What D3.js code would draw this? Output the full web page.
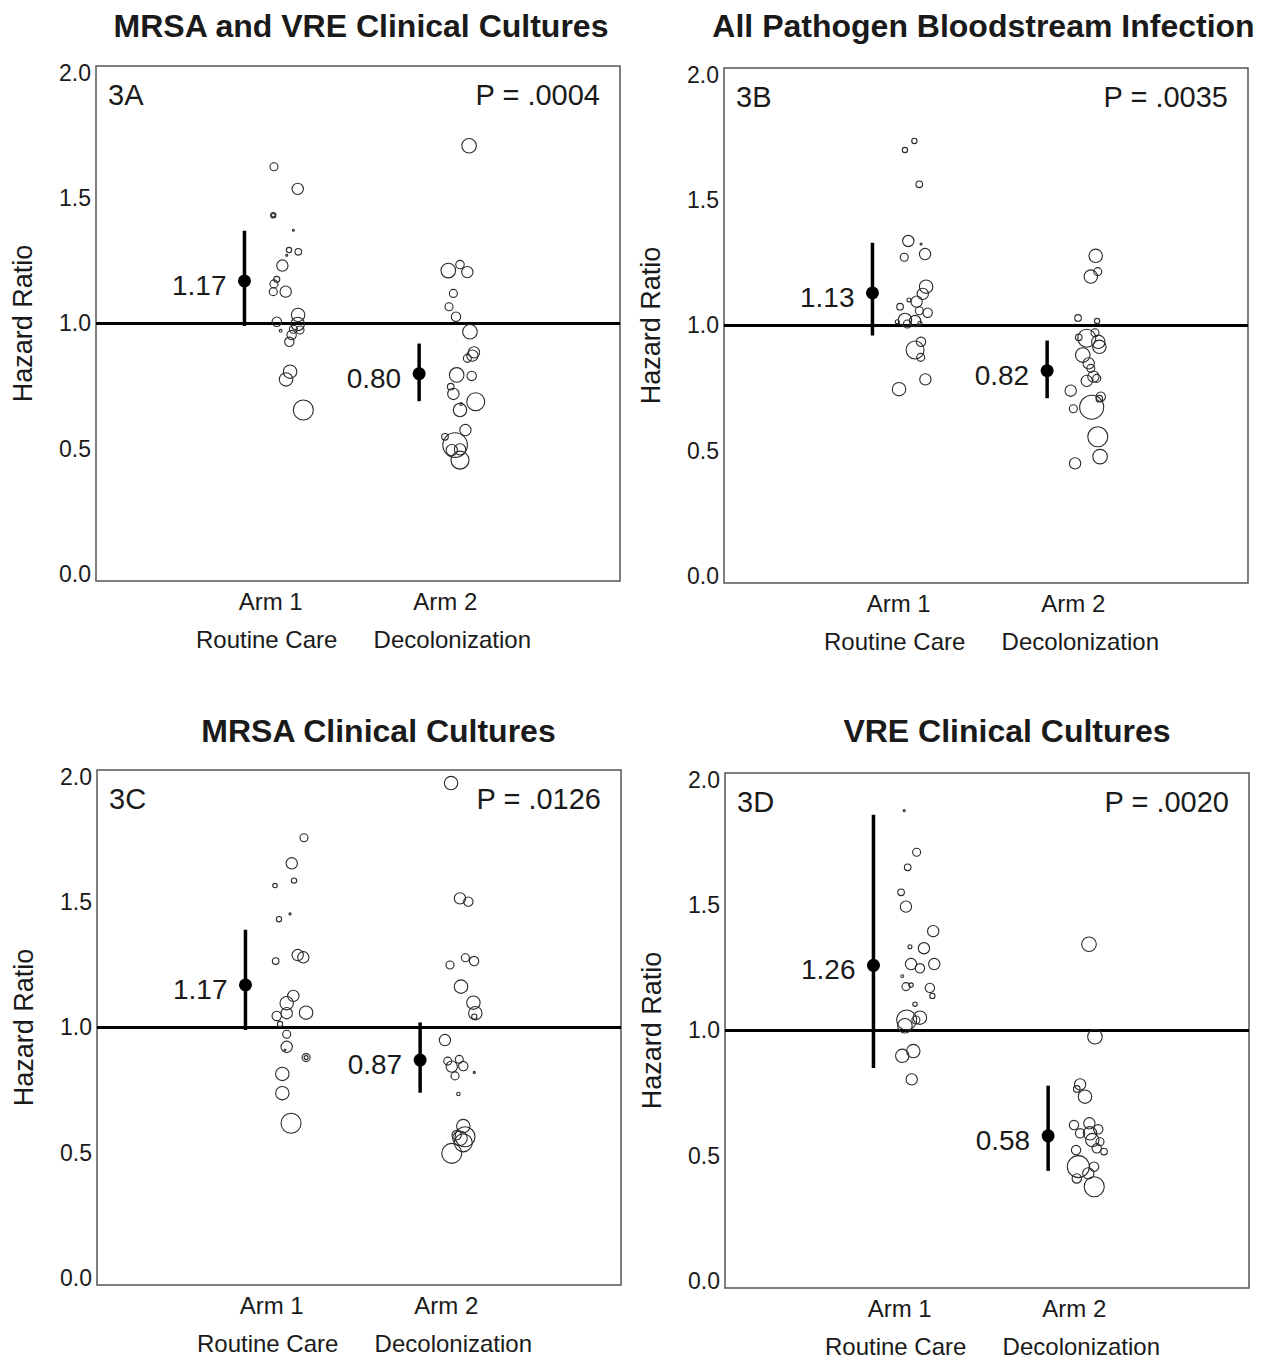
<!DOCTYPE html>
<html>
<head>
<meta charset="utf-8">
<script src="https://cdn.jsdelivr.net/npm/d3@7"></script>
<style>
  body { margin: 0; background: #fff; }
  svg { display: block; font-family: "Liberation Sans", Arial, sans-serif; }
</style>
</head>
<body>
<div id="chart"></div>
<script>
// ---- data ----
const panelIds = ["3A", "3B", "3C", "3D"];
const panelTitles = [
    "MRSA and VRE Clinical Cultures",
    "All Pathogen Bloodstream Infection",
    "MRSA Clinical Cultures",
    "VRE Clinical Cultures"
];
const pValues = ["P = .0004", "P = .0035", "P = .0126", "P = .0020"];
const armLabels = ["Arm 1", "Arm 2"];
const armNames = ["Routine Care", "Decolonization"];
const yTicks = [0, 0.5, 1.0, 1.5, 2.0];

// hazard ratio estimate and 95% CI per arm
const estimates = [[1.17, 0.80], [1.13, 0.82], [1.17, 0.87], [1.26, 0.58]];
const ciLower = [[0.99, 0.69], [0.96, 0.71], [0.99, 0.74], [0.85, 0.44]];
const ciUpper = [[1.37, 0.92], [1.33, 0.94], [1.39, 1.02], [1.86, 0.78]];

// hospital bubbles: [arm, jitter, hazard ratio, weight]
const bubblesA = [
    [1,0.019,1.625,16],[1,0.155,1.537,32],[1,0.015,1.432,7],[1,0.015,1.432,3],[1,0.130,1.372,1],
    [1,0.105,1.293,7],[1,0.158,1.286,11],[1,0.092,1.272,1],[1,0.067,1.231,32],[1,0.035,1.176,9],
    [1,0.019,1.158,16],[1,0.015,1.127,16],[1,0.086,1.127,32],[1,0.035,1.007,22],[1,0.057,0.971,2],
    [1,0.157,1.034,45],[1,0.155,0.998,45],[1,0.168,0.974,16],[1,0.130,0.977,16],[1,0.120,0.954,22],
    [1,0.107,0.927,22],[1,0.111,0.808,45],[1,0.088,0.777,45],[1,0.187,0.655,100],
    [2,0.136,1.709,53],[2,0.017,1.211,53],[2,0.084,1.235,18],[2,0.126,1.205,32],[2,0.046,1.120,16],
    [2,0.021,1.067,16],[2,0.061,1.027,22],[2,0.141,0.967,53],[2,0.164,0.885,32],[2,0.155,0.872,32],
    [2,0.126,0.861,16],[2,0.065,0.795,53],[2,0.151,0.791,22],[2,0.031,0.748,11],[2,0.046,0.719,32],
    [2,0.174,0.688,81],[2,0.084,0.655,45],[2,0.090,0.679,2],[2,0.115,0.575,32],[2,-0.002,0.548,11],
    [2,0.056,0.515,151],[2,0.037,0.495,32],[2,0.084,0.498,32],[2,0.084,0.455,81]
];
const bubblesB = [
    [1,0.090,1.736,7],[1,0.036,1.700,7],[1,0.118,1.563,11],[1,0.055,1.337,32],[1,0.128,1.325,1],
    [1,0.032,1.272,16],[1,0.151,1.285,32],[1,0.157,1.155,45],[1,0.138,1.126,32],[1,0.103,1.095,32],
    [1,0.059,1.102,4],[1,0.008,1.075,11],[1,0.118,1.059,16],[1,0.166,1.051,22],[1,0.036,1.022,45],
    [1,0.094,1.018,32],[1,0.050,1.006,16],[1,-0.008,1.015,4],[1,0.122,1.009,4],[1,0.128,0.935,22],
    [1,0.094,0.902,81],[1,0.126,0.873,16],[1,0.153,0.785,32],[1,0.002,0.746,45],
    [2,0.128,1.278,45],[2,0.140,1.215,16],[2,0.100,1.195,45],[2,0.027,1.030,11],[2,0.136,1.018,7],
    [2,0.124,0.971,16],[2,0.077,0.949,81],[2,0.031,0.953,11],[2,0.143,0.935,45],[2,0.149,0.915,45],
    [2,0.054,0.882,53],[2,0.088,0.849,32],[2,0.100,0.829,16],[2,0.115,0.796,32],[2,0.134,0.789,16],
    [2,0.077,0.779,32],[2,-0.015,0.740,32],[2,0.157,0.716,22],[2,0.149,0.708,11],[2,0.000,0.668,16],
    [2,0.105,0.674,144],[2,0.140,0.556,100],[2,0.153,0.477,53],[2,0.010,0.450,32]
];
const bubblesC = [
    [1,0.185,1.757,16],[1,0.115,1.655,32],[1,0.128,1.586,7],[1,0.019,1.566,5],[1,0.105,1.453,1],
    [1,0.042,1.432,7],[1,0.023,1.265,11],[1,0.149,1.289,32],[1,0.181,1.280,32],[1,0.124,1.126,32],
    [1,0.086,1.097,45],[1,0.197,1.059,45],[1,0.086,1.057,32],[1,0.029,1.046,22],[1,0.048,1.014,7],
    [1,0.086,0.973,16],[1,0.086,0.923,32],[1,0.076,0.910,1],[1,0.197,0.880,16],[1,0.197,0.880,4],
    [1,0.061,0.815,45],[1,0.061,0.738,45],[1,0.111,0.618,100],
    [2,0.027,1.975,45],[2,0.078,1.515,32],[2,0.126,1.502,22],[2,0.021,1.249,16],[2,0.109,1.278,16],
    [2,0.159,1.265,22],[2,0.084,1.163,45],[2,0.155,1.099,45],[2,0.166,1.057,45],[2,0.160,1.043,7],
    [2,-0.008,0.950,32],[2,0.008,0.866,16],[2,0.031,0.844,32],[2,0.074,0.873,16],[2,0.097,0.846,22],
    [2,0.050,0.807,16],[2,0.160,0.821,1],[2,0.069,0.735,3],[2,0.097,0.607,45],[2,0.107,0.564,100],
    [2,0.078,0.558,53],[2,0.059,0.571,22],[2,0.097,0.540,81],[2,0.031,0.498,100]
];
const bubblesD = [
    [1,0.026,1.877,1],[1,0.097,1.711,16],[1,0.046,1.651,11],[1,0.008,1.551,11],[1,0.036,1.494,32],
    [1,0.192,1.396,32],[1,0.059,1.334,4],[1,0.139,1.328,32],[1,0.065,1.265,32],[1,0.116,1.248,22],
    [1,0.198,1.265,32],[1,0.015,1.217,2],[1,0.036,1.175,16],[1,0.065,1.181,5],[1,0.173,1.170,22],
    [1,0.187,1.138,7],[1,0.088,1.105,5],[1,0.040,1.042,100],[1,0.116,1.051,45],[1,0.030,1.019,53],
    [1,0.093,1.042,16],[1,0.015,0.899,45],[1,0.078,0.918,45],[1,0.069,0.805,32],
    [2,0.084,1.344,53],[2,0.118,0.975,53],[2,0.033,0.785,32],[2,0.014,0.767,11],[2,0.061,0.736,45],
    [2,-0.002,0.623,22],[2,0.086,0.630,32],[2,0.137,0.606,22],[2,0.033,0.590,22],[2,0.090,0.590,45],
    [2,0.103,0.563,45],[2,0.147,0.556,16],[2,0.170,0.517,11],[2,0.128,0.530,22],[2,0.010,0.523,22],
    [2,0.023,0.457,121],[2,0.113,0.457,22],[2,0.080,0.430,32],[2,0.014,0.410,22],[2,0.114,0.377,100]
];
const bubbles = [bubblesA, bubblesB, bubblesC, bubblesD];

// ---- layout ----
const W = 524, H = 515;
const layout = [
    {left: 96,  top: 66,  titleX: 361,    titleY: 37},
    {left: 724, top: 68,  titleX: 983.5,  titleY: 37},
    {left: 97,  top: 770, titleX: 378.5,  titleY: 742},
    {left: 725, top: 773, titleX: 1007,   titleY: 742}
];
const ciOffset = -0.15;
const textColor = "#1a1a1a";

const svg = d3.select("#chart").append("svg")
    .attr("width", 1277)
    .attr("height", 1359);

svg.append("rect").attr("width", 1277).attr("height", 1359).attr("fill", "#fff");

const x = d3.scaleLinear().domain([0, 3]).range([0, W]);
const y = d3.scaleLinear().domain([-0.027, 2.027]).range([H, 0]);
const r = d3.scaleSqrt().domain([0, 100]).range([0, 10]);

panelIds.forEach((id, i) => {
    const lay = layout[i];

    svg.append("text")
        .attr("x", lay.titleX)
        .attr("y", lay.titleY)
        .attr("text-anchor", "middle")
        .style("font-size", "32px")
        .style("font-weight", "bold")
        .style("fill", textColor)
        .text(panelTitles[i]);

    const g = svg.append("g")
        .attr("transform", `translate(${lay.left},${lay.top})`);

    g.append("rect")
        .attr("width", W)
        .attr("height", H)
        .attr("fill", "none")
        .attr("stroke", "#555")
        .attr("stroke-width", 1.5);

    // y axis
    const yAxis = g.append("g")
        .call(d3.axisLeft(y).tickValues(yTicks).tickSize(0).tickPadding(5).tickFormat(d3.format(".1f")));
    yAxis.select(".domain").remove();
    yAxis.selectAll("text")
        .style("font-size", "23px")
        .style("font-family", "'Liberation Sans', Arial, sans-serif")
        .attr("fill", textColor);

    g.append("text")
        .attr("transform", `translate(-73,${H / 2}) rotate(-90)`)
        .attr("text-anchor", "middle")
        .attr("dominant-baseline", "central")
        .style("font-size", "27px")
        .style("fill", textColor)
        .text("Hazard Ratio");

    // x labels
    [1, 2].forEach((arm, k) => {
        g.append("text")
            .attr("x", x(arm))
            .attr("y", H + 29)
            .attr("text-anchor", "middle")
            .style("font-size", "24px")
            .style("fill", textColor)
            .text(armLabels[k]);
        g.append("text")
            .attr("x", x(arm) + (k === 0 ? -4 : 7))
            .attr("y", H + 67)
            .attr("text-anchor", "middle")
            .style("font-size", "24px")
            .style("fill", textColor)
            .text(armNames[k]);
    });

    // corner labels
    g.append("text")
        .attr("x", 12)
        .attr("y", 39)
        .style("font-size", "29px")
        .style("fill", textColor)
        .text(id);
    g.append("text")
        .attr("x", W - 20)
        .attr("y", 39)
        .attr("text-anchor", "end")
        .style("font-size", "29px")
        .style("fill", textColor)
        .text(pValues[i]);

    // reference line
    g.append("line")
        .attr("x1", 0).attr("x2", W)
        .attr("y1", y(1)).attr("y2", y(1))
        .attr("stroke", "#000")
        .attr("stroke-width", 3);

    // hospital bubbles
    g.selectAll(".bubble")
        .data(bubbles[i])
        .join("circle")
        .attr("class", "bubble")
        .attr("cx", d => x(d[0] + d[1]))
        .attr("cy", d => y(d[2]))
        .attr("r", d => Math.max(0.9, r(d[3])))
        .attr("fill", "none")
        .attr("stroke", "#2a2a2a")
        .attr("stroke-width", 1.1);

    // estimates with CI
    const est = [1, 2].map((arm, k) => ({
        arm: arm,
        hr: estimates[i][k],
        lo: ciLower[i][k],
        hi: ciUpper[i][k]
    }));

    g.selectAll(".ci")
        .data(est)
        .join("line")
        .attr("class", "ci")
        .attr("x1", d => x(d.arm + ciOffset))
        .attr("x2", d => x(d.arm + ciOffset))
        .attr("y1", d => y(d.lo))
        .attr("y2", d => y(d.hi))
        .attr("stroke", "#000")
        .attr("stroke-width", 3.5);

    g.selectAll(".est")
        .data(est)
        .join("circle")
        .attr("class", "est")
        .attr("cx", d => x(d.arm + ciOffset))
        .attr("cy", d => y(d.hr))
        .attr("r", 6.5)
        .attr("fill", "#000");

    g.selectAll(".est-label")
        .data(est)
        .join("text")
        .attr("class", "est-label")
        .attr("x", d => x(d.arm + ciOffset) - 18)
        .attr("y", d => y(d.hr) + 14)
        .attr("text-anchor", "end")
        .style("font-size", "28px")
        .style("fill", textColor)
        .text(d => d3.format(".2f")(d.hr));
});
</script>
</body>
</html>
